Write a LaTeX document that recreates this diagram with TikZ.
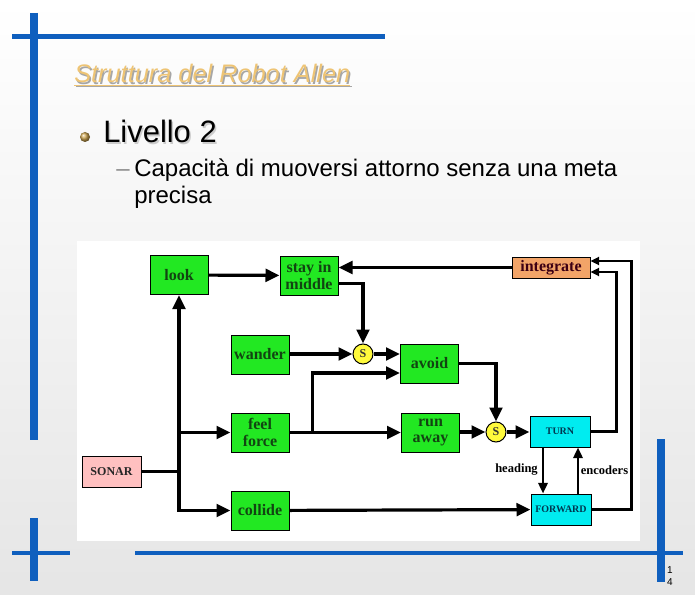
\documentclass[tikz,border=0pt]{standalone}
\usepackage{fontspec}
\setmainfont{Liberation Serif}
\newfontfamily\arialfont{Liberation Sans}
\usetikzlibrary{arrows.meta,calc}
\definecolor{slideblue}{RGB}{15,95,190}
\definecolor{titlegold}{RGB}{238,196,116}
\definecolor{boxgreen}{RGB}{34,232,34}
\definecolor{greentext}{RGB}{18,68,18}
\definecolor{intfill}{RGB}{242,164,104}
\definecolor{inttext}{RGB}{60,0,20}
\definecolor{cyanfill}{RGB}{0,236,240}
\definecolor{cyantext}{RGB}{0,55,80}
\definecolor{sonarfill}{RGB}{255,192,192}
\definecolor{syellow}{RGB}{255,250,60}
\begin{document}
\begin{tikzpicture}[x=0.75pt,y=-0.75pt,
  box/.style={draw=black, line width=0.75pt, inner sep=0pt, fill=boxgreen, text=greentext,
    minimum width=43.5pt, minimum height=29.25pt, align=center,
    font=\fontsize{12}{12.5}\selectfont\bfseries},
  intbox/.style={box, fill=intfill, text=inttext, minimum width=58.5pt, minimum height=15.75pt},
  cyanbox/.style={box, fill=cyanfill, text=cyantext, minimum width=45pt, minimum height=23.25pt,
    font=\fontsize{7.5}{8}\selectfont\bfseries},
  sonarbox/.style={box, fill=sonarfill, text=black!85, minimum width=44.25pt, minimum height=23.25pt,
    font=\fontsize{9}{10}\selectfont\bfseries},
  sumnode/.style={circle, draw=black, line width=0.75pt, fill=syellow, inner sep=0pt,
    minimum size=15pt, font=\fontsize{9}{9}\selectfont\bfseries, text=black!80},
  lbl/.style={inner sep=0pt, font=\fontsize{9.4}{10}\selectfont\bfseries},
  slidetext/.style={anchor=base west, inner sep=0pt, font=\arialfont\fontsize{18}{20}\selectfont},
  plain/.style={line width=2.4pt},
  main/.style={line width=2.4pt, -{Triangle[length=10.5pt,width=9.5pt]}},
  mid/.style={line width=2pt, -{Triangle[length=6.5pt,width=6pt]}},
  thinarr/.style={line width=1.8pt, -{Triangle[length=8pt,width=7pt]}},
  blueline/.style={draw=slideblue}
]
\useasboundingbox (0,0) rectangle (695,595);
% slide background
\shade[top color=white, bottom color=black!10] (0,0) rectangle (695,595);
% blue frame lines
\draw[blueline, line width=6pt] (34,13) -- (34,440);
\draw[blueline, line width=3.6pt] (12,36.5) -- (385,36.5);
\draw[blueline, line width=6pt] (34,518) -- (34,581);
\draw[blueline, line width=3.4pt] (12,553) -- (70,553);
\draw[blueline, line width=3.4pt] (135,553) -- (683,553);
\draw[blueline, line width=6pt] (661,439) -- (661,582);

% title
\node[anchor=base west, inner sep=0pt, text=black!35, font=\arialfont\itshape\fontsize{19}{20}\selectfont] (titleshadow) at (75.5,84.5) {\underline{Struttura del Robot Allen}};
\node[anchor=base west, inner sep=0pt, text=titlegold, font=\arialfont\itshape\fontsize{19}{20}\selectfont] (title) at (74,83) {\underline{Struttura del Robot Allen}};

% bullet
\shade[ball color={rgb,255:red,205;green,165;blue,80}] (85,137) circle (5);
\node[anchor=base west, inner sep=0pt, text=black!20, font=\arialfont\fontsize{23.2}{24}\selectfont] (lv2s) at (104.5,144.5) {Livello 2};
\node[anchor=base west, inner sep=0pt, text=black, font=\arialfont\fontsize{23.2}{24}\selectfont] (lv2) at (103,143) {Livello 2};

\node[slidetext, text=black!45] (dash) at (116,177) {–};
\node[slidetext, text=black] (capa) at (134,177) {Capacità di muoversi attorno senza una meta};
\node[slidetext, text=black] (prec) at (134,204) {precisa};

% page number
\node[inner sep=0pt, font=\arialfont\fontsize{7.5}{8}\selectfont] (pg1) at (670,570) {1};
\node[inner sep=0pt, font=\arialfont\fontsize{7.5}{8}\selectfont] (pg2) at (670,582) {4};

% diagram area
\fill[white] (77,241) rectangle (640,541);

% nodes
\node[box] (look) at (179,275) {look};
\node[box] (stay) at (309,275.5) {stay in\\middle};
\node[intbox] (integrate) at (551,267.5) {integrate};
\node[box] (wander) at (260,354.5) {wander};
\node[sumnode] (s1) at (363,354) {S};
\node[box] (avoid) at (429.5,363.5) {avoid};
\node[box] (feel) at (260,432.5) {feel\\force};
\node[box] (run) at (430.5,432.5) {run\\away};
\node[sumnode] (s2) at (496,432) {S};
\node[cyanbox] (turn) at (560,431.5) {TURN};
\node[sonarbox] (sonar) at (111.5,471.5) {SONAR};
\node[box] (collide) at (260,510.5) {collide};
\node[cyanbox] (forward) at (561,509.5) {FORWARD};
\node[lbl] (heading) at (516.5,470) {heading};
\node[lbl] (encoders) at (604.5,470) {encoders};

% connectors
\draw[main] (look) -- (stay);
\draw[main] (integrate.west) -- (integrate.west -| stay.east);
\draw[main] ($(stay.east)+(0,8)$) -| (s1.north);
\draw[main] (wander.east |- s1) -- (s1.west);
\draw[main] (s1.east) -- (s1.east -| avoid.west);
\draw[main] (feel.east) -- (run.west);
\coordinate (j1) at ($(feel.east)+(23,0)$);
\draw[main] (j1) |- ($(avoid.west)+(0,9.5)$);
\draw[main] (run.east |- s2) -- (s2.west);
\draw[main] (avoid.east) -| (s2.north);
\draw[main] (s2.east) -- (s2.east -| turn.west);
\coordinate (h1) at ($(turn.south)+(-17,0)$);
\draw[thinarr] (h1) -- (h1 |- forward.north);
\coordinate (e1) at ($(forward.north)+(17,0)$);
\draw[thinarr] (e1) -- (e1 |- turn.south);
\draw[mid] (turn.east) -| ($(integrate.east)+(26,4.5)$) -- ($(integrate.east)+(0,4.5)$);
\draw[mid] (forward.east) -| ($(integrate.east)+(41,-6.5)$) -- ($(integrate.east)+(0,-6.5)$);
\coordinate (js) at (sonar.east -| look.south);
\draw[plain] (sonar.east) -- (js);
\draw[main] (js) -- (look.south);
\draw[main] (js) |- (collide.west);
\draw[main] (js |- feel.west) -- (feel.west);
\draw[main] (collide) -- (forward);
\end{tikzpicture}
\end{document}
